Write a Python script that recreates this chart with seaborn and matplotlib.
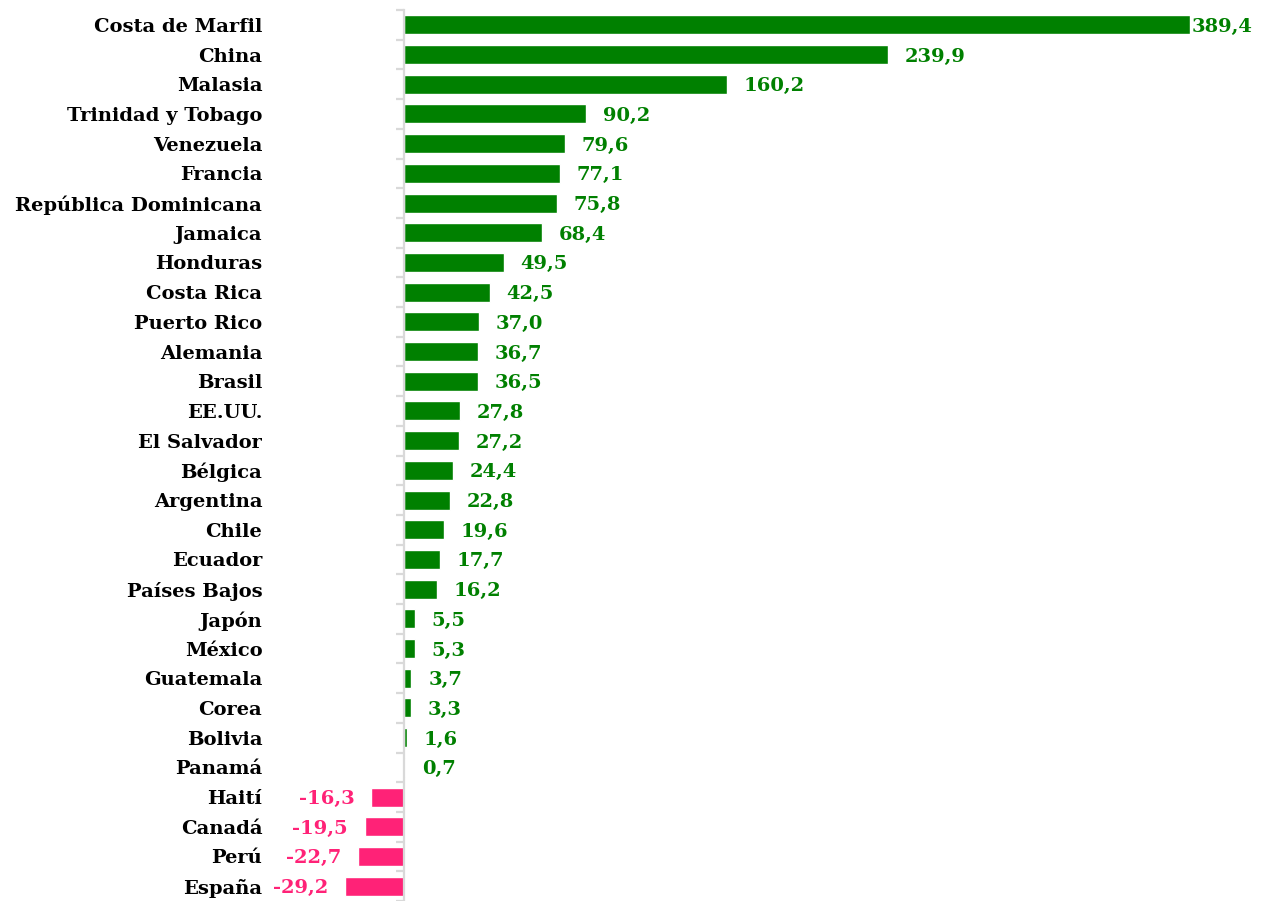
import numpy as np
import matplotlib.pyplot as plt
import seaborn as sns

paises = ["Costa de Marfil", "China", "Malasia", "Trinidad y Tobago", "Venezuela",
          "Francia", "República Dominicana", "Jamaica", "Honduras", "Costa Rica",
          "Puerto Rico", "Alemania", "Brasil", "EE.UU.", "El Salvador", "Bélgica",
          "Argentina", "Chile", "Ecuador", "Países Bajos", "Japón", "México",
          "Guatemala", "Corea", "Bolivia", "Panamá", "Haití", "Canadá", "Perú", "España"]
variacion = [389.4, 239.9, 160.2, 90.2, 79.6, 77.1, 75.8, 68.4, 49.5, 42.5,
             37.0, 36.7, 36.5, 27.8, 27.2, 24.4, 22.8, 19.6, 17.7, 16.2,
             5.5, 5.3, 3.7, 3.3, 1.6, 0.7, -16.3, -19.5, -22.7, -29.2]

VERDE = "#008000"
ROSA = "#FF2277"

sns.set_style("white")
plt.rcParams['font.family'] = ['DejaVu Serif']
plt.rcParams['font.weight'] = 'bold'

signo = ["pos" if v >= 0 else "neg" for v in variacion]

W, H = 1265, 901
fig = plt.figure(figsize=(W / 100, H / 100), dpi=100)

# geometria del area de trazado (pixeles)
x_cero, x_max = 404, 1190
xmin = -30
escala = (x_max - x_cero) / max(variacion)
izq = x_cero + xmin * escala
ax = fig.add_axes([izq / W, 0, (x_max - izq) / W, 891 / H])

sns.barplot(x=variacion, y=paises, hue=signo, palette={"pos": VERDE, "neg": ROSA},
            dodge=False, width=0.64, orient="h", legend=False, ax=ax, saturation=1)

ax.set_xlim(xmin, max(variacion))
ax.set_ylim(len(paises) - 0.5, -0.5)
ax.set_xlabel("")
ax.set_ylabel("")
ax.set_xticks([])

for s in ["top", "right", "bottom"]:
    ax.spines[s].set_visible(False)
ax.spines["left"].set_position(("data", 0))
ax.spines["left"].set_color("#D9D9D9")
ax.spines["left"].set_linewidth(1.6)

ax.set_yticks(np.arange(len(paises)))
ax.set_yticklabels(paises, fontsize=14, fontweight="bold", color="black")
ax.set_yticks(np.arange(-0.5, len(paises)), minor=True)
ax.tick_params(axis="y", which="major", left=True, length=0, pad=102)
ax.tick_params(axis="y", which="minor", left=True, direction="out",
               length=6, width=1.6, color="#D9D9D9")

for i, v in enumerate(variacion):
    txt = f"{v:.1f}".replace(".", ",")
    if v >= 0:
        off = 1 if v == max(variacion) else 12
        ax.annotate(txt, xy=(v, i), xytext=(off, 0), textcoords="offset points",
                    ha="left", va="center_baseline", fontsize=14, fontweight="bold",
                    color=VERDE, annotation_clip=False)
    else:
        ax.annotate(txt, xy=(v, i), xytext=(-12, 0), textcoords="offset points",
                    ha="right", va="center_baseline", fontsize=14, fontweight="bold",
                    color=ROSA, annotation_clip=False)

fig.savefig("out.png", dpi=100)
